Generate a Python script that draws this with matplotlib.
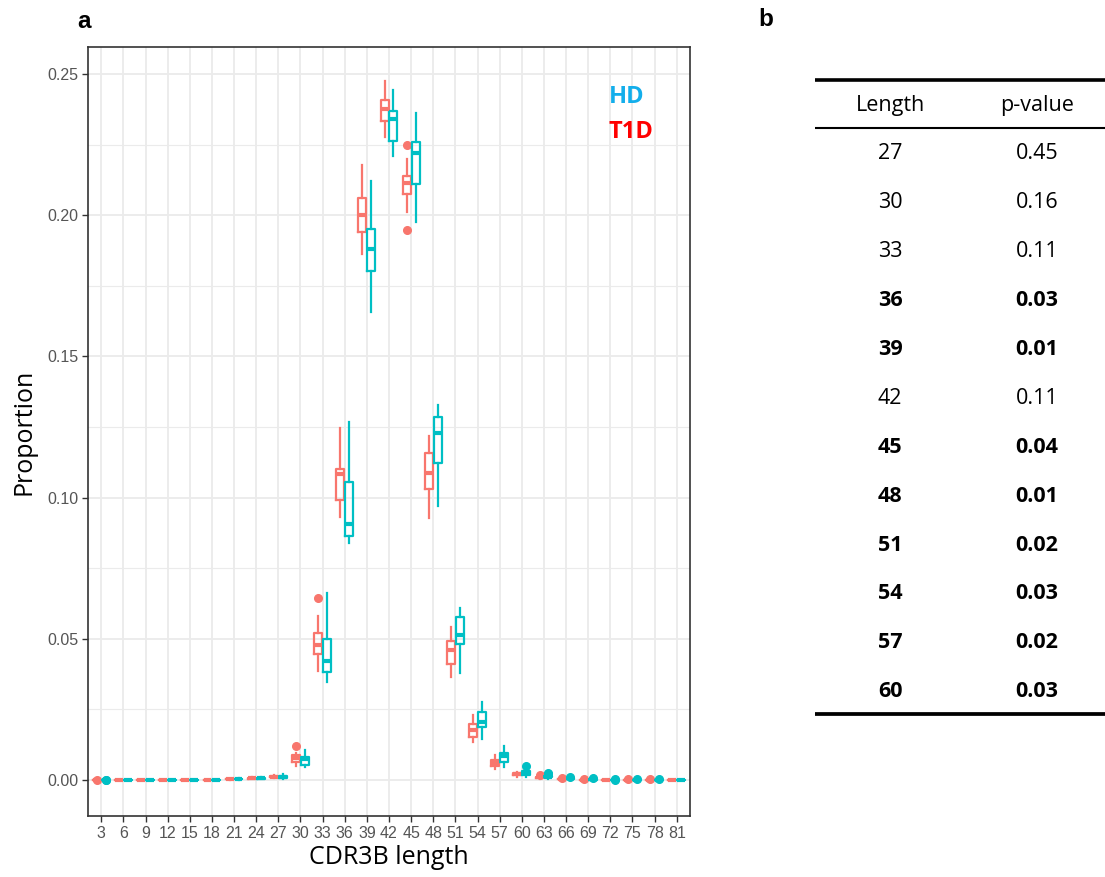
import matplotlib
matplotlib.use("Agg")
import matplotlib.pyplot as plt
import numpy as np

# ---------------- data ----------------
LENGTHS = [3, 6, 9, 12, 15, 18, 21, 24, 27, 30, 33, 36, 39, 42,
           45, 48, 51, 54, 57, 60, 63, 66, 69, 72, 75, 78, 81]

# T1D boxplot stats
T1D_LO = [0, 0, 0, 0, 0, 0, 0.0001, 0.0003, 0.0007, 0.0050, 0.0387, 0.0932, 0.1862, 0.2276,
          0.2010, 0.0929, 0.0366, 0.0136, 0.0038, 0.0012, 0.0004, 0.0001, 0, 0, 0, 0, 0]
T1D_Q1 = [0.00001, 0.00002, 0.00002, 0.00002, 0.00002, 0.00003, 0.00018, 0.0005, 0.0010, 0.0065,
          0.0445, 0.0992, 0.1940, 0.2335, 0.2075, 0.1029, 0.0411, 0.0153, 0.0050, 0.0017,
          0.0007, 0.0002, 0.00005, 0.00002, 0.00001, 0.00001, 0]
T1D_MED = [0.00002, 0.00004, 0.00004, 0.00004, 0.00004, 0.00005, 0.00025, 0.0006, 0.0012, 0.0077,
           0.0478, 0.1084, 0.2000, 0.2376, 0.2116, 0.1086, 0.0460, 0.0177, 0.0060, 0.0021,
           0.0009, 0.0003, 0.0001, 0.00005, 0.00003, 0.00002, 0.00001]
T1D_Q3 = [0.00003, 0.00006, 0.00006, 0.00006, 0.00006, 0.00008, 0.00035, 0.0008, 0.0015, 0.0089,
          0.0519, 0.1100, 0.2060, 0.2410, 0.2139, 0.1157, 0.0492, 0.0197, 0.0071, 0.0025,
          0.0011, 0.0004, 0.00015, 0.00008, 0.00005, 0.00004, 0.00002]
T1D_HI = [0.00005, 0.0001, 0.0001, 0.0001, 0.0001, 0.00012, 0.0005, 0.0010, 0.0019, 0.0094,
          0.0581, 0.1248, 0.2178, 0.2475, 0.2198, 0.1218, 0.0543, 0.0230, 0.0089, 0.0030,
          0.0014, 0.0006, 0.0003, 0.0001, 0.0001, 0.0001, 0.00004]
T1D_OUT = [[0.0001], [], [], [], [], [], [], [], [], [0.0120], [0.0645], [], [], [],
           [0.2249, 0.1948], [], [], [], [], [], [0.0018], [0.0008], [0.0004], [],
           [0.0002], [0.0002], []]

# HD boxplot stats
HD_LO = [0, 0, 0, 0, 0, 0, 0.0001, 0.0002, 0.0005, 0.0045, 0.0348, 0.0838, 0.1658, 0.2210,
         0.1975, 0.0970, 0.0378, 0.0144, 0.0047, 0.0012, 0.0005, 0.0002, 0, 0, 0, 0, 0]
HD_Q1 = [0.00001, 0.00002, 0.00002, 0.00002, 0.00002, 0.00003, 0.0002, 0.0004, 0.0008, 0.0053,
         0.0381, 0.0865, 0.1804, 0.2263, 0.2110, 0.1121, 0.0480, 0.0187, 0.0065, 0.0018,
         0.0009, 0.0004, 0.0001, 0.00002, 0.00001, 0.00001, 0]
HD_MED = [0.00002, 0.00004, 0.00004, 0.00004, 0.00004, 0.00005, 0.0003, 0.0006, 0.0010, 0.0074,
          0.0421, 0.0907, 0.1880, 0.2340, 0.2219, 0.1228, 0.0513, 0.0206, 0.0085, 0.0025,
          0.0012, 0.0006, 0.0002, 0.00005, 0.00003, 0.00003, 0.00001]
HD_Q3 = [0.00003, 0.00006, 0.00006, 0.00006, 0.00006, 0.00008, 0.0004, 0.0008, 0.0013, 0.0083,
         0.0499, 0.1056, 0.1951, 0.2370, 0.2260, 0.1284, 0.0576, 0.0242, 0.0095, 0.0032,
         0.0015, 0.0008, 0.0003, 0.0001, 0.00005, 0.00005, 0.00002]
HD_HI = [0.00005, 0.0001, 0.0001, 0.0001, 0.0001, 0.00012, 0.0006, 0.0011, 0.0021, 0.0106,
         0.0661, 0.1267, 0.2121, 0.2443, 0.2361, 0.1328, 0.0610, 0.0277, 0.0120, 0.0040,
         0.0019, 0.0010, 0.0005, 0.0002, 0.0001, 0.0001, 0.00004]
HD_OUT = [[0.0001, 0.00015], [], [], [], [], [], [], [], [], [], [], [], [], [],
          [], [], [], [], [], [0.0050], [0.0022, 0.0025], [0.0012], [0.0007],
          [0.0003, 0.0001], [0.0002], [0.0002], []]

# table in panel b
TABLE_LENGTH = [27, 30, 33, 36, 39, 42, 45, 48, 51, 54, 57, 60]
TABLE_PVALUE = ["0.45", "0.16", "0.11", "0.03", "0.01", "0.11",
                "0.04", "0.01", "0.02", "0.03", "0.02", "0.03"]
TABLE_BOLD = [False, False, False, True, True, False, True, True, True, True, True, True]

RED = "#F8766D"
TEAL = "#00BFC4"
GRID = "#EBEBEB"
TEXT_FONT = "Open Sans"
AXIS_FONT = "Liberation Sans"


def make_stats(lo, q1, med, q3, hi, out):
    stats = []
    for i in range(len(med)):
        stats.append(dict(whislo=lo[i], q1=q1[i], med=med[i], q3=q3[i],
                          whishi=hi[i], fliers=out[i]))
    return stats


def draw_group(ax, stats, offset, color):
    pos = np.arange(len(stats)) + offset
    ax.bxp(stats, positions=pos, widths=0.36, showcaps=False, manage_ticks=False,
           boxprops=dict(color=color, linewidth=1.6),
           whiskerprops=dict(color=color, linewidth=1.6),
           medianprops=dict(color=color, linewidth=3.0, solid_capstyle="butt"),
           flierprops=dict(marker="o", markerfacecolor=color, markeredgecolor=color,
                           markersize=5.5, linestyle="none"))


fig = plt.figure(figsize=(11.05, 8.77), dpi=100)

# ======================== panel a ========================
ax = fig.add_axes([88 / 1105, 61 / 877, 602 / 1105, 769 / 877])
ax.set_axisbelow(True)

draw_group(ax, make_stats(T1D_LO, T1D_Q1, T1D_MED, T1D_Q3, T1D_HI, T1D_OUT), -0.2, RED)
draw_group(ax, make_stats(HD_LO, HD_Q1, HD_MED, HD_Q3, HD_HI, HD_OUT), 0.2, TEAL)

ax.set_xlim(-0.6, len(LENGTHS) - 0.4)
ax.set_ylim(-0.01275, 0.2596)
ax.set_xticks(np.arange(len(LENGTHS)))
ax.set_xticklabels([str(v) for v in LENGTHS])
ax.set_yticks(np.arange(0, 0.26, 0.05))
ax.set_yticklabels([f"{v:.2f}" for v in np.arange(0, 0.26, 0.05)])
ax.set_yticks(np.arange(0.025, 0.26, 0.05), minor=True)

ax.grid(which="major", color=GRID, linewidth=1.3)
ax.grid(which="minor", axis="y", color=GRID, linewidth=0.8)
ax.tick_params(which="major", length=4, width=1.0, color="#333333",
               labelcolor="#555555", labelsize=11.5, pad=3)
ax.tick_params(which="minor", length=0)
for lab in ax.get_xticklabels() + ax.get_yticklabels():
    lab.set_family(AXIS_FONT)
for sp in ax.spines.values():
    sp.set_color("#333333")
    sp.set_linewidth(1.2)

ax.set_xlabel("CDR3B length", family=TEXT_FONT, fontsize=18)
ax.set_ylabel("Proportion", family=TEXT_FONT, fontsize=18)
ax.xaxis.set_label_coords(0.5, -0.038)
ax.yaxis.set_label_coords(-0.085, 0.5)

ax.text(0.865, 0.935, "HD", transform=ax.transAxes, color="#13AEEB", fontsize=17,
        fontweight="bold", family=TEXT_FONT, va="center", ha="left")
ax.text(0.865, 0.889, "T1D", transform=ax.transAxes, color="#FF0000", fontsize=17,
        fontweight="bold", family=TEXT_FONT, va="center", ha="left")

fig.text(84 / 1105, 1 - 21 / 877, "a", fontsize=17.5, fontweight="bold",
         family=AXIS_FONT, ha="center", va="center")
fig.text(766 / 1105, 1 - 19 / 877, "b", fontsize=17.5, fontweight="bold",
         family=AXIS_FONT, ha="center", va="center")

# ======================== panel b (table) ========================
tab = fig.add_axes([815 / 1105, 156 / 877, 290 / 1105, 645.3 / 877])
tab.set_xlim(0, 1)
tab.set_ylim(12.6, -0.6)
tab.axis("off")

tab.axhline(-0.51, color="black", linewidth=2.6)
tab.axhline(0.47, color="black", linewidth=1.5)
tab.axhline(12.45, color="black", linewidth=2.7)

col_x = [0.259, 0.766]
tab.text(col_x[0], 0, "Length", ha="center", va="center", fontsize=15.5, family=TEXT_FONT)
tab.text(col_x[1], 0, "p-value", ha="center", va="center", fontsize=15.5, family=TEXT_FONT)
for i, (ln, pv, bold) in enumerate(zip(TABLE_LENGTH, TABLE_PVALUE, TABLE_BOLD)):
    w = "bold" if bold else "normal"
    tab.text(col_x[0], i + 1, str(ln), ha="center", va="center", fontsize=15.5,
             fontweight=w, family=TEXT_FONT)
    tab.text(col_x[1], i + 1, pv, ha="center", va="center", fontsize=15.5,
             fontweight=w, family=TEXT_FONT)

plt.savefig("out.png", dpi=100)
plt.close()
